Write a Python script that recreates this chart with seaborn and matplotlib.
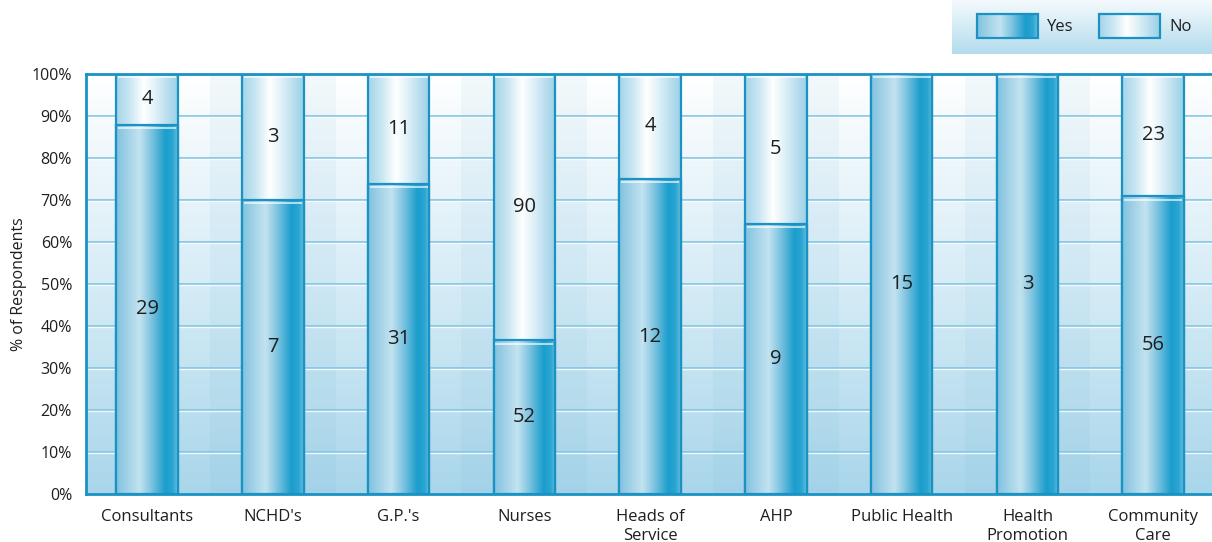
import numpy as np
import pandas as pd
import matplotlib.pyplot as plt
import matplotlib.transforms as mtrans
from matplotlib.colors import LinearSegmentedColormap
from matplotlib.patches import Rectangle
import seaborn as sns

# data
categories = ["Consultants", "NCHD's", "G.P.'s", "Nurses", "Heads of\nService",
              "AHP", "Public Health", "Health\nPromotion", "Community\nCare"]
yes_counts = [29, 7, 31, 52, 12, 9, 15, 3, 56]
no_counts = [4, 3, 11, 90, 4, 5, 0, 0, 23]
yticks = [0, 10, 20, 30, 40, 50, 60, 70, 80, 90, 100]

df = pd.DataFrame({"category": categories, "yes": yes_counts, "no": no_counts})
df["yes_pct"] = df["yes"] / (df["yes"] + df["no"]) * 100
df["total"] = 100.0

sns.set_style("white")
plt.rcParams["font.family"] = ["Open Sans", "DejaVu Sans"]

edge = "#1a93c4"
txt = "#1e1e1e"
yes_cmap = LinearSegmentedColormap.from_list("yes", [
    (0.0, "#7ec2df"), (0.15, "#9ccfe6"), (0.38, "#c3e3f0"), (0.55, "#86c7e2"),
    (0.8, "#1a9dcc"), (0.92, "#2ba6d2"), (1.0, "#6ebfdd")])
no_cmap = LinearSegmentedColormap.from_list("no", [
    (0.0, "#a4d4e9"), (0.22, "#c9e6f2"), (0.45, "#ffffff"), (0.62, "#e2f2f9"),
    (1.0, "#9acfe6")])
bg_cmap = LinearSegmentedColormap.from_list("bg", ["#a9d6ea", "#d6ecf6", "#ffffff"])

fig = plt.figure(figsize=(12.12, 5.42), dpi=100)
W, H = 1212, 542
ax = fig.add_axes([86 / W, 48 / H, 1132 / W, 420 / H])

# No bars span the full column, Yes bars drawn on top
sns.barplot(data=df, x="category", y="total", width=0.49, errorbar=None, ax=ax,
            color="white", edgecolor=edge, linewidth=1.6, zorder=3)
n_no = len(ax.patches)
sns.barplot(data=df, x="category", y="yes_pct", width=0.49, errorbar=None, ax=ax,
            color="white", edgecolor=edge, linewidth=1.6, zorder=4)

ax.set_xlim(-0.485, 8.515)
ax.set_ylim(0, 100)

grad = np.linspace(0, 1, 256).reshape(1, -1)
px = mtrans.ScaledTranslation(0, -3.5 / 100, fig.dpi_scale_trans)
for k, p in enumerate(ax.patches):
    x0, y0 = p.get_x(), p.get_y()
    w, h = p.get_width(), p.get_height()
    if h <= 0:
        continue
    cm = no_cmap if k < n_no else yes_cmap
    z = 3 if k < n_no else 4
    im = ax.imshow(grad, cmap=cm, aspect="auto", extent=(x0, x0 + w, y0, y0 + h),
                   zorder=z - 0.5, interpolation="bicubic")
    im.set_clip_path(p)
    p.set_facecolor("none")
    # thin highlight just below the top of each segment
    ax.plot([x0 + w * 0.03, x0 + w * 0.97], [y0 + h, y0 + h], color="white",
            lw=1.3, alpha=0.7, zorder=z + 0.2, transform=ax.transData + px,
            solid_capstyle="butt")

# background gradient and alternating column tint
bg = np.linspace(0, 1, 256).reshape(-1, 1)
ax.imshow(bg, cmap=bg_cmap, aspect="auto", extent=(0, 1, 0, 1), origin="lower",
          transform=ax.transAxes, zorder=0)
for i in range(len(categories)):
    if i % 2 == 1:
        ax.axvspan(i - 0.5, i + 0.5, color="#5aa9cf", alpha=0.07, lw=0, zorder=0.5)

down = mtrans.ScaledTranslation(0, -1.3 / 100, fig.dpi_scale_trans)
for t in yticks[1:-1]:
    ax.axhline(t, color="#86c7e3", lw=1.3, zorder=1)
    ax.plot([0, 1], [t, t], color="white", lw=1.0, alpha=0.8, zorder=1,
            transform=ax.get_yaxis_transform() + down)

# value labels
for i, row in df.iterrows():
    ax.text(i, row["yes_pct"] / 2, str(row["yes"]), ha="center", va="center",
            fontsize=14.5, color=txt, zorder=6)
    if row["no"] > 0:
        ax.text(i, row["yes_pct"] + (100 - row["yes_pct"]) / 2, str(row["no"]),
                ha="center", va="center", fontsize=14.5, color=txt, zorder=6)

ax.set_yticks(yticks)
ax.set_yticklabels([f"{t}%" for t in yticks], fontsize=11.5, color=txt)
ax.set_xticks(range(len(categories)))
ax.set_xticklabels(categories, fontsize=12, color=txt, linespacing=1.2)
ax.tick_params(axis="y", length=0, pad=10)
ax.tick_params(axis="x", length=0, pad=11)
ax.set_xlabel("")
ax.set_ylabel("% of Respondents", fontsize=11.5, color=txt, labelpad=3)

for s in ["left", "bottom", "top"]:
    ax.spines[s].set_color(edge)
    ax.spines[s].set_linewidth(2)
ax.spines["right"].set_visible(False)

# legend box
lax = fig.add_axes([952 / W, (H - 54) / H, 260 / W, 54 / H])
lax.set_xlim(0, 260)
lax.set_ylim(54, 0)
lax.axis("off")
lax.imshow(np.linspace(0, 1, 64).reshape(-1, 1),
           cmap=LinearSegmentedColormap.from_list("lg", ["#f4fafd", "#b3dced"]),
           aspect="auto", extent=(0, 260, 54, 0), zorder=0)
for lx, cm, lab in [(25, yes_cmap, "Yes"), (147, no_cmap, "No")]:
    r = Rectangle((lx, 14), 61, 24, facecolor="none", edgecolor=edge, lw=1.6, zorder=3)
    lax.add_patch(r)
    im = lax.imshow(grad, cmap=cm, aspect="auto", extent=(lx, lx + 61, 38, 14), zorder=2)
    im.set_clip_path(r)
    lax.text(lx + 70, 27, lab, ha="left", va="center", fontsize=12, color=txt)

fig.savefig("out.png", dpi=100)
